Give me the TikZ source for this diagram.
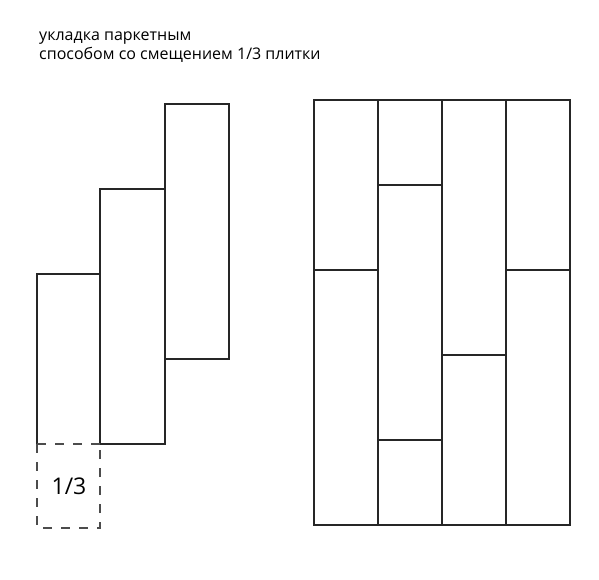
\documentclass[tikz,border=0pt]{standalone}
\usepackage{fontspec}
\setmainfont{Open Sans}
\begin{document}
\begin{tikzpicture}[x=1pt,y=-1pt,
  tile/.style={draw=black!85, line width=1.1pt},
  cut/.style={draw=black!70, line width=1.1pt, dash pattern=on 9pt off 9pt},
  lbl/.style={anchor=base west, inner sep=0pt, font=\fontsize{16}{18}\selectfont}]
\useasboundingbox[fill=white] (0,0) rectangle (599,580);
\node[lbl] (t1) at (39,41) {укладка паркетным};
\node[lbl] (t2) at (39,60) {способом со смещением 1/3 плитки};
% left staircase
\draw[tile] (37,444) -- (37,274) -- (100,274) -- (100,444);
\draw[tile] (100,444) -- (100,189) -- (165,189) -- (165,444) -- (100,444);
\draw[tile] (165,104) rectangle (229,359);
\draw[cut] (37,444) -- (100,444);
\draw[cut] (37,444) -- (37,528) -- (100,528) -- (100,444);
\node[font=\fontsize{23}{25}\selectfont] (third) at (69,486) {1/3};
% right panel
\draw[tile] (314,100) rectangle (570,525);
\draw[tile] (378,100) -- (378,525);
\draw[tile] (442,100) -- (442,525);
\draw[tile] (506,100) -- (506,525);
\draw[tile] (314,270) -- (378,270);
\draw[tile] (378,185) -- (442,185);
\draw[tile] (378,440) -- (442,440);
\draw[tile] (442,355) -- (506,355);
\draw[tile] (506,270) -- (570,270);
\end{tikzpicture}
\end{document}
